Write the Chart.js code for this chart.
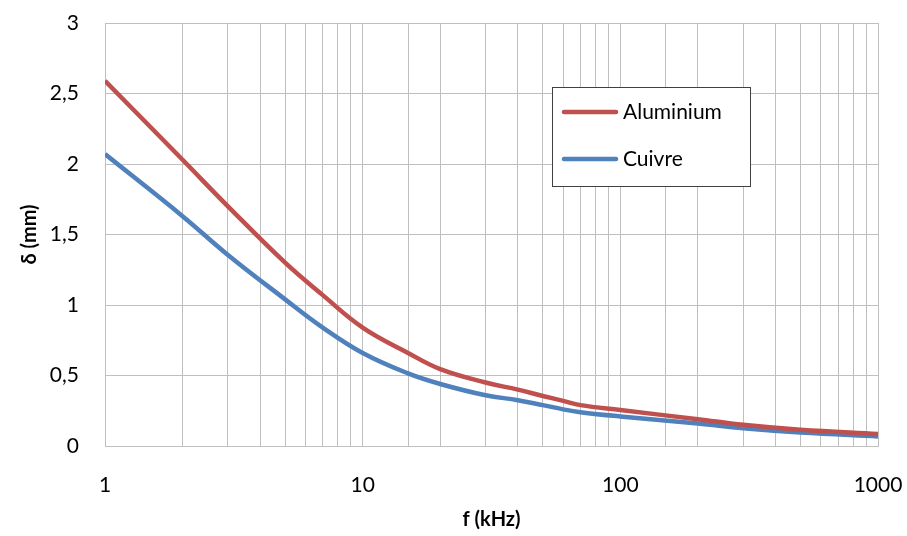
<!DOCTYPE html>
<html>
<head>
<meta charset="utf-8">
<script src="https://cdn.jsdelivr.net/npm/chart.js@4/dist/chart.umd.min.js"></script>
<style>
  html, body { margin: 0; padding: 0; background: #fff; }
  #wrap { width: 907px; height: 536px; }
</style>
</head>
<body>
<div id="wrap"><canvas id="skinChart" width="907" height="536"></canvas></div>
<script>
// frequency (kHz) and skin depth (mm)
const freqs = [1, 2, 3, 5, 7, 10, 15, 20, 30, 40, 50, 60, 70, 100, 200, 300, 500, 1000];
const aluminium = [2.59, 2.03, 1.70, 1.30, 1.07, 0.84, 0.66, 0.545, 0.45, 0.40, 0.355, 0.32, 0.29, 0.255, 0.19, 0.15, 0.115, 0.085];
const cuivre = [2.07, 1.63, 1.355, 1.04, 0.84, 0.66, 0.515, 0.44, 0.36, 0.325, 0.29, 0.26, 0.24, 0.21, 0.16, 0.125, 0.095, 0.068];
const yTicks = [0, 0.5, 1, 1.5, 2, 2.5, 3];

const FONT = "Lato, 'Open Sans', sans-serif";
const gridColor = "#bfbfbf";

function toPoints(xs, ys) {
  return xs.map((x, i) => ({ x: x, y: ys[i] }));
}

// legend box drawn inside the plot, like the Excel original
const boxLegend = {
  id: "boxLegend",
  afterDraw(chart) {
    const ctx = chart.ctx;
    const x0 = 552.5, y0 = 87.5, w = 198, h = 99;
    ctx.save();
    ctx.fillStyle = "#fff";
    ctx.fillRect(x0, y0, w, h);
    ctx.strokeStyle = "#404040";
    ctx.lineWidth = 1;
    ctx.strokeRect(x0, y0, w, h);
    chart.data.datasets.forEach((ds, i) => {
      const y = 112 + i * 47;
      ctx.strokeStyle = ds.borderColor;
      ctx.lineWidth = 4.5;
      ctx.lineCap = "round";
      ctx.beginPath();
      ctx.moveTo(564, y);
      ctx.lineTo(616, y);
      ctx.stroke();
      ctx.fillStyle = "#000";
      ctx.font = "21px " + FONT;
      ctx.textBaseline = "middle";
      ctx.textAlign = "left";
      ctx.fillText(ds.label, 623, y);
    });
    ctx.restore();
  },
};

const ctx = document.getElementById("skinChart");
new Chart(ctx, {
  type: "line",
  data: {
    datasets: [
      {
        label: "Aluminium",
        data: toPoints(freqs, aluminium),
        borderColor: "#C0504D",
        borderWidth: 4.5,
        pointRadius: 0,
        tension: 0.4,
      },
      {
        label: "Cuivre",
        data: toPoints(freqs, cuivre),
        borderColor: "#4F81BD",
        borderWidth: 4.5,
        pointRadius: 0,
        tension: 0.4,
      },
    ],
  },
  options: {
    responsive: false,
    animation: false,
    layout: { padding: { left: 0, right: 29, top: 23, bottom: 0 } },
    plugins: {
      legend: { display: false },
      tooltip: { enabled: false },
    },
    scales: {
      x: {
        type: "logarithmic",
        min: 1,
        max: 1000,
        // invisible tick marks push the labels down without widening the padding
        grid: { color: gridColor, drawTicks: true, tickLength: 25, tickColor: "rgba(0,0,0,0)" },
        border: { color: gridColor },
        ticks: {
          padding: 2,
          color: "#000",
          font: { family: FONT, size: 21 },
          autoSkip: false,
          maxRotation: 0,
          callback: (v) => ([1, 10, 100, 1000].includes(v) ? String(v) : ""),
        },
        title: {
          display: true,
          text: "f (kHz)",
          color: "#000",
          font: { family: FONT, size: 20, weight: "bold" },
          padding: { top: 4, bottom: 4 },
        },
        afterFit: (s) => { s.height = 90; },
      },
      y: {
        min: 0,
        max: 3,
        afterBuildTicks: (s) => { s.ticks = yTicks.map((v) => ({ value: v })); },
        grid: { color: gridColor, drawTicks: true, tickLength: 23, tickColor: "rgba(0,0,0,0)" },
        border: { color: gridColor },
        ticks: {
          padding: 3,
          color: "#000",
          font: { family: FONT, size: 21 },
          callback: (v) => String(v).replace(".", ","),
        },
        title: {
          display: true,
          text: "δ (mm)",
          color: "#000",
          font: { family: FONT, size: 20, weight: "bold" },
          padding: { top: 18, bottom: 4 },
        },
        afterFit: (s) => { s.width = 105; },
      },
    },
  },
  plugins: [boxLegend],
});
</script>
</body>
</html>
